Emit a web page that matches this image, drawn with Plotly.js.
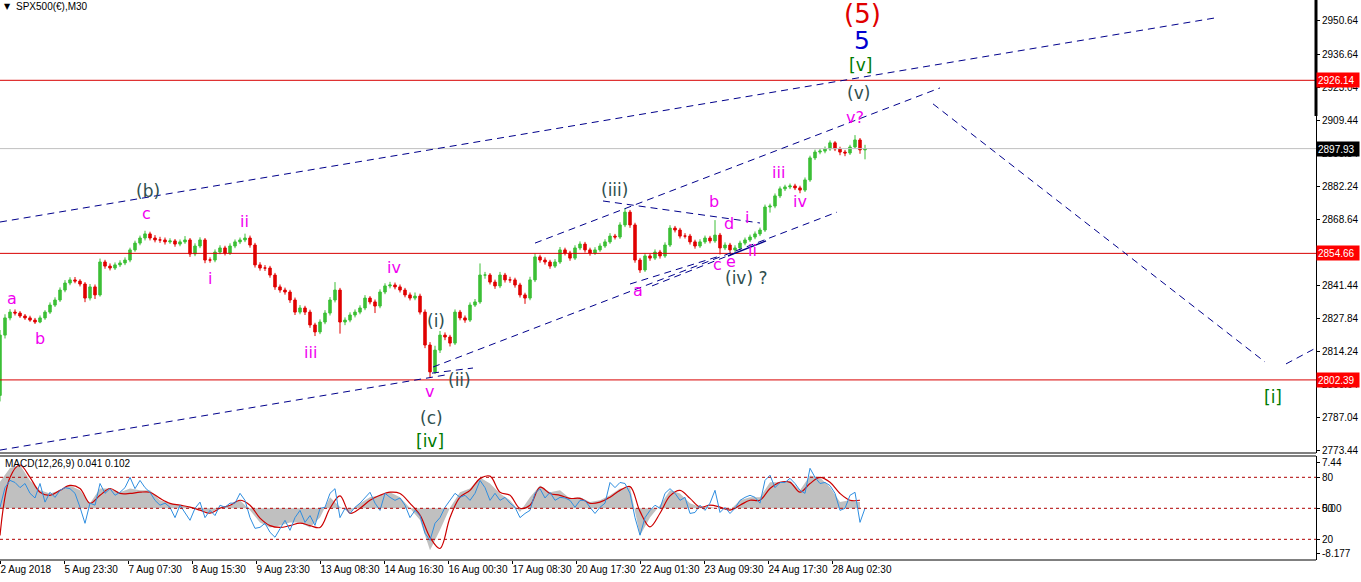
<!DOCTYPE html>
<html><head><meta charset="utf-8">
<script src="https://cdn.plot.ly/plotly-3.0.1.min.js"></script>
<style>html,body{margin:0;padding:0;background:#fff;}#chart{width:1361px;height:582px;}</style>
</head><body><div id="chart"></div>
<script>
// ---- price data (each candle = 5 bars of M30) ----
const candleStep = 5;
const open = [
2796.0,2820.9,2828.0,2830.4,2830.0,2828.8,2828.0,2827.1,2826.3,2828.0,
2830.4,2833.3,2835.4,2839.5,2842.4,2843.7,2843.2,2842.0,2836.2,2840.8,
2837.5,2851.1,2849.4,2848.6,2849.9,2850.7,2851.9,2856.1,2858.9,2861.0,
2862.7,2861.0,2860.2,2860.2,2859.4,2859.8,2858.5,2859.4,2860.2,2854.4,
2857.7,2860.2,2851.9,2851.9,2855.2,2856.9,2854.8,2857.7,2859.4,2860.2,
2861.0,2858.1,2849.9,2848.6,2848.6,2845.7,2840.8,2839.5,2838.7,2835.4,
2830.4,2832.1,2830.4,2825.1,2822.2,2826.3,2830.0,2835.4,2839.5,2826.3,
2827.1,2829.2,2830.4,2832.1,2836.2,2834.6,2832.9,2838.7,2841.2,2841.6,
2840.8,2839.5,2837.5,2836.2,2837.0,2830.4,2816.8,2805.7,2814.7,2820.9,
2820.1,2817.6,2830.4,2828.0,2827.1,2833.3,2834.6,2845.7,2845.7,2842.8,
2841.2,2845.7,2843.7,2843.7,2841.6,2837.5,2836.2,2843.7,2853.2,2851.9,
2851.1,2849.4,2851.1,2856.1,2854.8,2852.7,2856.9,2858.5,2856.1,2854.8,
2856.1,2857.7,2859.4,2861.8,2861.4,2866.4,2871.7,2866.4,2851.9,2847.8,
2853.6,2852.7,2855.2,2853.6,2858.1,2865.1,2864.3,2861.8,2861.8,2859.4,
2857.7,2859.4,2861.0,2859.8,2862.2,2856.9,2858.1,2856.1,2856.9,2858.9,
2860.2,2861.4,2862.7,2864.3,2873.8,2874.2,2878.4,2881.3,2882.1,2882.5,
2881.7,2880.8,2885.0,2894.1,2896.5,2896.9,2897.8,2900.3,2897.8,2896.5,
2896.1,2898.6,2901.5,2897.4];
const high = [
2823.0,2829.5,2831.6,2831.5,2830.8,2829.6,2828.9,2828.0,2829.0,2831.2,
2834.4,2836.5,2840.6,2843.6,2844.8,2844.9,2844.0,2842.8,2842.0,2841.8,
2852.5,2852.0,2850.5,2850.9,2851.8,2853.0,2857.0,2859.9,2862.0,2864.0,
2863.6,2862.2,2861.5,2861.2,2860.9,2860.6,2860.4,2861.8,2861.0,2858.8,
2861.3,2861.0,2853.0,2856.3,2858.0,2857.8,2858.8,2860.4,2861.2,2862.8,
2862.0,2859.0,2851.0,2849.8,2849.5,2846.6,2841.8,2840.5,2839.6,2836.4,
2833.3,2833.0,2831.4,2826.0,2827.4,2831.2,2836.6,2842.8,2840.4,2828.2,
2830.3,2831.5,2833.2,2837.4,2837.0,2835.6,2839.8,2842.3,2842.9,2842.6,
2841.8,2840.4,2838.5,2838.5,2838.0,2831.5,2818.0,2816.5,2822.6,2822.0,
2821.0,2831.5,2831.3,2829.0,2834.4,2835.8,2850.5,2847.0,2846.5,2843.8,
2847.0,2846.6,2845.0,2844.6,2842.5,2838.4,2845.0,2854.6,2854.1,2853.0,
2852.0,2852.3,2857.3,2857.0,2855.7,2858.0,2859.6,2859.4,2857.0,2857.2,
2858.8,2860.5,2863.0,2862.7,2867.5,2873.4,2872.6,2867.3,2852.8,2854.7,
2854.5,2856.3,2856.1,2859.2,2866.3,2866.0,2865.2,2863.0,2862.7,2860.3,
2860.5,2862.0,2861.9,2868.4,2863.1,2859.2,2859.0,2858.0,2859.9,2861.2,
2862.4,2863.7,2865.3,2874.8,2875.2,2879.4,2882.3,2883.0,2883.5,2883.4,
2882.6,2886.0,2895.0,2897.5,2897.8,2898.8,2901.3,2901.0,2898.7,2897.4,
2899.5,2903.5,2902.3,2899.5];
const low = [
2793.5,2819.5,2827.0,2829.0,2828.0,2827.2,2826.4,2825.5,2825.8,2827.2,
2829.6,2832.5,2834.6,2838.6,2841.5,2842.3,2841.0,2834.5,2835.2,2835.8,
2836.8,2848.3,2847.6,2847.8,2849.0,2849.8,2851.0,2855.3,2858.0,2860.0,
2860.0,2859.2,2859.0,2858.3,2858.6,2857.4,2857.6,2858.6,2853.2,2853.5,
2856.8,2850.6,2850.8,2851.0,2854.3,2853.8,2854.0,2856.8,2858.5,2859.3,
2857.0,2848.8,2847.5,2847.4,2844.6,2839.6,2838.4,2837.6,2834.2,2829.2,
2829.5,2829.2,2823.9,2820.5,2821.3,2825.4,2829.0,2834.4,2821.5,2825.0,
2826.2,2828.2,2829.5,2831.2,2833.6,2830.0,2832.0,2837.8,2840.2,2839.8,
2838.5,2836.5,2835.2,2835.3,2829.4,2815.5,2803.2,2804.8,2813.5,2818.8,
2816.2,2816.8,2827.0,2826.0,2826.3,2832.5,2833.8,2844.2,2841.8,2840.0,
2840.3,2842.6,2842.5,2840.5,2836.4,2833.8,2835.3,2842.8,2850.8,2850.0,
2848.3,2848.6,2850.3,2853.8,2851.6,2851.9,2856.0,2855.0,2853.7,2854.0,
2855.3,2856.9,2858.6,2860.4,2860.6,2865.5,2865.2,2850.8,2846.6,2847.0,
2851.6,2851.9,2852.5,2852.8,2857.3,2863.3,2860.8,2860.8,2858.3,2856.6,
2856.9,2858.6,2858.8,2859.0,2854.2,2856.0,2855.0,2855.3,2856.0,2858.0,
2859.4,2860.5,2861.8,2863.5,2871.5,2873.3,2877.5,2880.4,2881.2,2880.8,
2879.5,2880.0,2884.2,2893.2,2895.6,2896.0,2897.0,2896.9,2895.2,2894.8,
2895.3,2897.8,2895.8,2893.5];
const close = [
2820.9,2828.0,2830.4,2830.0,2828.8,2828.0,2827.1,2826.3,2828.0,2830.4,
2833.3,2835.4,2839.5,2842.4,2843.7,2843.2,2842.0,2836.2,2840.8,2837.5,
2851.1,2849.4,2848.6,2849.9,2850.7,2851.9,2856.1,2858.9,2861.0,2862.7,
2861.0,2860.2,2860.2,2859.4,2859.8,2858.5,2859.4,2860.2,2854.4,2857.7,
2860.2,2851.9,2851.9,2855.2,2856.9,2854.8,2857.7,2859.4,2860.2,2861.0,
2858.1,2849.9,2848.6,2848.6,2845.7,2840.8,2839.5,2838.7,2835.4,2830.4,
2832.1,2830.4,2825.1,2822.2,2826.3,2830.0,2835.4,2839.5,2826.3,2827.1,
2829.2,2830.4,2832.1,2836.2,2834.6,2832.9,2838.7,2841.2,2841.6,2840.8,
2839.5,2837.5,2836.2,2837.0,2830.4,2816.8,2805.7,2814.7,2820.9,2820.1,
2817.6,2830.4,2828.0,2827.1,2833.3,2834.6,2845.7,2845.7,2842.8,2841.2,
2845.7,2843.7,2843.7,2841.6,2837.5,2836.2,2843.7,2853.2,2851.9,2851.1,
2849.4,2851.1,2856.1,2854.8,2852.7,2856.9,2858.5,2856.1,2854.8,2856.1,
2857.7,2859.4,2861.8,2861.4,2866.4,2871.7,2866.4,2851.9,2847.8,2853.6,
2852.7,2855.2,2853.6,2858.1,2865.1,2864.3,2861.8,2861.8,2859.4,2857.7,
2859.4,2861.0,2859.8,2862.2,2856.9,2858.1,2856.1,2856.9,2858.9,2860.2,
2861.4,2862.7,2864.3,2873.8,2874.2,2878.4,2881.3,2882.1,2882.5,2881.7,
2880.8,2885.0,2894.1,2896.5,2896.9,2897.8,2900.3,2897.8,2896.5,2896.1,
2898.6,2901.5,2897.4,2897.93];

// ---- MACD pane ----
const macdStep = 10;
const macdHist = [
4.3,6.5,7.0,4.5,2.9,2.4,2.9,3.7,2.9,0.8,
3.2,3.2,2.6,3.2,2.9,2.9,1.3,0.8,0.5,0.2,
-0.2,-0.8,0.2,0.5,1.3,-0.3,-2.3,-3.1,-2.8,-2.3,
-2.3,-3.1,-1.5,1.8,0.2,-0.6,0.8,1.8,2.1,2.6,
1.8,0.0,-1.9,-6.8,-3.5,0.1,2.6,3.2,5.0,4.0,
2.4,1.3,-0.6,1.8,3.7,2.6,2.9,1.6,1.8,1.0,
1.3,2.1,3.2,3.4,-4.4,-1.5,0.5,2.9,2.4,0.8,
0.2,0.2,0.0,-0.3,1.3,1.8,1.8,4.2,4.2,4.5,
2.9,5.3,5.0,3.4,1.0,1.3,1.0];
const macdSignal = [
-4.4,5.0,7.0,5.0,2.6,2.1,2.9,3.7,3.2,0.8,
2.1,3.2,2.4,2.4,2.6,2.6,1.6,0.8,0.5,0.2,
-0.3,-0.8,0.0,0.5,1.3,0.5,-1.6,-2.8,-3.1,-2.8,
-2.4,-2.8,-3.1,0.0,2.0,-0.8,0.0,1.3,2.1,2.6,
2.4,0.8,-1.1,-4.7,-6.5,-1.5,1.8,2.9,4.8,5.2,
2.6,2.1,0.0,0.5,3.4,2.4,2.1,1.6,1.6,0.8,
1.0,1.8,2.9,3.5,-0.5,-3.0,-0.8,2.0,2.9,1.6,
0.2,0.5,0.2,-0.3,0.5,1.3,1.3,3.2,4.2,4.2,
2.6,4.0,5.0,4.2,2.4,1.3,1.3];
const oscStep = 5;
const oscLine = [
51,70,77,75,70,74,64.5,60,74,56,
65.5,60.6,67.4,70,69,64.5,51,35.5,55,53,
74,64.5,69,62.6,65.5,70,80,69,77,70,
65.5,57.7,53,55,51,41,53,46,38.4,50,
56,41,48,43,53,51,55,55,64.5,57.7,
41,30.6,31.6,35.5,26.8,22,30.6,38.4,28.7,41,
48,36.4,43,33.5,50,51,64.5,69,41,50,
45,51,55,60.6,65.5,55,48,64.5,60.6,57.7,
60,53,41,48,43,26,19,35.5,41,51,
57.7,64.5,60.6,62.6,57.7,64.5,77,70,57.7,64.5,
57.7,60.6,55,51,41,45,48,64.5,69,60,
65.5,57.7,60.6,60,57.7,51,57.7,57.7,51,45,
51,55,75,70,75,74,64.5,41,24,41,
48,53,50,64.5,69,64.5,57.7,60.6,45,46,
53,48,55,67.4,46,51,45,50,57.7,60.6,
62.6,60.6,55,77,82,70,75,75,79,74,
67.4,64.5,88.7,80,74,75,72,64.5,48,50,
62.6,65.5,36.4,50];

// ---- axes labels ----
const timeTickBars = [0,64,128,192,256,320,384,448,512,576,640,704,768,832];
const timeTickText = ['2 Aug 2018','5 Aug 23:30','7 Aug 07:30','8 Aug 15:30','9 Aug 23:30','13 Aug 08:30','14 Aug 16:30','16 Aug 00:30','17 Aug 08:30','20 Aug 17:30','22 Aug 01:30','23 Aug 09:30','24 Aug 17:30','28 Aug 02:30'];
const priceTicks = [2950.64,2936.64,2923.04,2909.44,2895.84,2882.24,2868.64,2855.04,2841.44,2827.84,2814.24,2800.64,2787.04,2773.44];
const redLevels = [2926.14,2854.66,2802.39];
const lastPrice = 2897.93;

// wave labels: [text, bar, price, kind]
const waveLabels = [
 ['(5)',862,2953.5,'red'],['5',862,2942.4,'blue'],['[v]',860,2932.5,'green'],['(v)',858,2920.9,'gray'],
 ['v?',855,2910.6,'mag'],['iii',778,2887.9,'mag'],['iv',800,2875.9,'mag'],['b',714,2875.9,'mag'],
 ['d',729,2866.8,'mag'],['i',747,2869.3,'mag'],['ii',752,2856.0,'mag'],['c',717,2849.9,'mag'],
 ['e',731,2851.1,'mag'],['(iv) ?',746,2844.5,'gray'],['a',638,2839.5,'mag'],['(iii)',614,2880.8,'gray'],
 ['(b)',148,2880.4,'gray'],['c',146,2871.3,'mag'],['ii',244,2868.0,'mag'],['i',210,2844.1,'mag'],
 ['a',12,2836.2,'mag'],['b',40,2819.3,'mag'],['iii',310,2813.9,'mag'],['iv',394,2849.0,'mag'],
 ['(i)',436,2826.7,'gray'],['(ii)',459,2802.4,'gray'],['v',429,2797.4,'mag'],['(c)',431,2786.7,'gray'],
 ['[iv]',430,2777.2,'green'],['[i]',1273,2795.3,'green']
];
// trend lines: [bar0, price0, bar1, price1, solid]
const trendLines = [
 [0,2867.6,1215,2951.9,0],[535,2858.9,940,2923.0,0],[433,2807.7,837,2871.7,0],
 [0,2773.4,445,2804.4,0],[432,2805.2,473,2807.3,0],[933,2916.4,1265,2809.8,0],
 [1286,2809.0,1316,2815.6,0],[603,2876.3,760,2867.2,0],[630,2842.0,717,2853.2,0],
 [652,2841.2,735,2854.8,0],[728,2853.6,766,2859.8,1]
];

const cx = close.map((_,i)=>i*candleStep);
const mx = macdHist.map((_,i)=>i*macdStep);
const ox = oscLine.map((_,i)=>i*oscStep);

const traces = [
 {type:'candlestick', x:cx, open:open, high:high, low:low, close:close, xaxis:'x', yaxis:'y',
  increasing:{line:{color:'#3cbf36',width:1}, fillcolor:'#3cbf36'},
  decreasing:{line:{color:'#e00000',width:1}, fillcolor:'#e00000'},
  whiskerwidth:0, hoverinfo:'skip', showlegend:false},
 {type:'scatter', mode:'lines', x:mx, y:macdHist, xaxis:'x', yaxis:'y2', fill:'tozeroy',
  fillcolor:'#c0c0c0', line:{width:0, color:'#c0c0c0'}, hoverinfo:'skip', showlegend:false},
 {type:'scatter', mode:'lines', x:ox, y:oscLine, xaxis:'x', yaxis:'y3',
  line:{width:1, color:'#2f8ee0'}, hoverinfo:'skip', showlegend:false},
 {type:'scatter', mode:'lines', x:mx, y:macdSignal, xaxis:'x', yaxis:'y2',
  line:{width:1.2, color:'#cc0000', shape:'spline'}, hoverinfo:'skip', showlegend:false}
];

const tickFont = {family:'Liberation Sans, Arial, sans-serif', size:10, color:'#000'};
const shapes = [];
redLevels.forEach(v=>shapes.push({type:'line', xref:'paper', yref:'y', x0:0, x1:1, y0:v, y1:v, line:{color:'#d80000', width:1}}));
shapes.push({type:'line', xref:'paper', yref:'y', x0:0, x1:1, y0:lastPrice, y1:lastPrice, line:{color:'#c0c0c0', width:1}});
trendLines.forEach(t=>shapes.push({type:'line', xref:'x', yref:'y', x0:t[0], y0:t[1], x1:t[2], y1:t[3],
  line:{color:'#00008b', width:t[4]?1.5:1, dash:t[4]?'solid':'7px,5px'}}));
[80,50,20].forEach(v=>shapes.push({type:'line', xref:'paper', yref:'y3', x0:0, x1:1, y0:v, y1:v, line:{color:'#b00000', width:1, dash:'3px,3px'}}));
// pane frames
const pricePaneBottom = 0.19107, macdPaneTop = 0.18571;
shapes.push({type:'line', xref:'paper', yref:'paper', x0:0, x1:1, y0:pricePaneBottom, y1:pricePaneBottom, line:{color:'#000', width:1}});
shapes.push({type:'line', xref:'paper', yref:'paper', x0:0, x1:1, y0:macdPaneTop, y1:macdPaneTop, line:{color:'#000', width:1}});
shapes.push({type:'line', xref:'paper', yref:'paper', x0:0, x1:1, y0:0, y1:0, line:{color:'#000', width:1}});
shapes.push({type:'line', xref:'paper', yref:'y', x0:1, x1:1, y0:2959.3, y1:2911.4, line:{color:'#000', width:3}});

const colorMap = {mag:'#f000f0', gray:'#2f4f4f', green:'#007a00', blue:'#0000d0', red:'#e00000'};
const sizeMap = {mag:16, gray:17, green:17, blue:25, red:26};
const annotations = waveLabels.map(w=>({text:w[0], x:w[1], y:w[2], xref:'x', yref:'y', showarrow:false,
  font:{family:'DejaVu Sans, sans-serif', size:sizeMap[w[3]], color:colorMap[w[3]]}, xanchor:'center', yanchor:'middle'}));
redLevels.forEach(v=>annotations.push({text:v.toFixed(2), xref:'paper', yref:'y', x:1, y:v, xanchor:'left', yanchor:'middle',
  showarrow:false, bgcolor:'#ff0000', font:{family:tickFont.family, size:10, color:'#fff'}, width:40, height:12, borderpad:1, align:'left'}));
annotations.push({text:lastPrice.toFixed(2), xref:'paper', yref:'y', x:1, y:lastPrice, xanchor:'left', yanchor:'middle',
  showarrow:false, bgcolor:'#000', font:{family:tickFont.family, size:10, color:'#fff'}, width:40, height:12, borderpad:1, align:'left'});
annotations.push({text:'▼', xref:'paper', yref:'paper', x:2/1316, y:(560-7)/560, xanchor:'left', yanchor:'middle', showarrow:false, font:{family:'DejaVu Sans', size:8, color:'#000'}});
annotations.push({text:'SPX500(€),M30', xref:'paper', yref:'paper', x:14/1316, y:(560-7)/560, xanchor:'left', yanchor:'middle', showarrow:false, font:tickFont});
annotations.push({text:'MACD(12,26,9) 0.041 0.102', xref:'paper', yref:'paper', x:3/1316, y:(560-463)/560, xanchor:'left', yanchor:'middle', showarrow:false, font:tickFont});

const layout = {
 width:1361, height:582, margin:{l:0, r:45, t:0, b:22},
 paper_bgcolor:'#fff', plot_bgcolor:'#fff', showlegend:false, dragmode:false,
 xaxis:{domain:[0,1], range:[0,1316], anchor:'y2', showgrid:false, zeroline:false, showline:false,
   tickmode:'array', tickvals:timeTickBars, ticktext:timeTickText, ticks:'outside', ticklen:3, tickcolor:'#000',
   tickfont:tickFont, tickangle:0, ticklabelposition:'outside right', automargin:false, rangeslider:{visible:false}, fixedrange:true},
 yaxis:{domain:[pricePaneBottom,1], range:[2772.2,2959.31], side:'right', anchor:'x', showgrid:false, zeroline:false,
   showline:true, linecolor:'#000', linewidth:1, tickmode:'array', tickvals:priceTicks, ticktext:priceTicks.map(v=>v.toFixed(2)),
   ticks:'outside', ticklen:3, tickcolor:'#000', tickfont:tickFont, automargin:false, fixedrange:true},
 yaxis2:{domain:[0,macdPaneTop], range:[-8.37,8.46], side:'right', anchor:'x', showgrid:false, zeroline:false,
   showline:true, linecolor:'#000', linewidth:1, tickmode:'array', tickvals:[7.44,0,-7.3], ticktext:['7.44','0.00','-8.177'],
   ticks:'outside', ticklen:3, tickcolor:'#000', tickfont:tickFont, automargin:false, fixedrange:true},
 yaxis3:{overlaying:'y2', range:[0,100.6], side:'right', anchor:'x', showgrid:false, zeroline:false, showline:false,
   tickmode:'array', tickvals:[80,50,20], ticktext:['80','50','20'], ticks:'outside', ticklen:3, tickcolor:'#000', tickfont:tickFont, automargin:false, fixedrange:true},
 shapes:shapes, annotations:annotations
};
Plotly.newPlot('chart', traces, layout, {displayModeBar:false, staticPlot:true});
</script></body></html>
